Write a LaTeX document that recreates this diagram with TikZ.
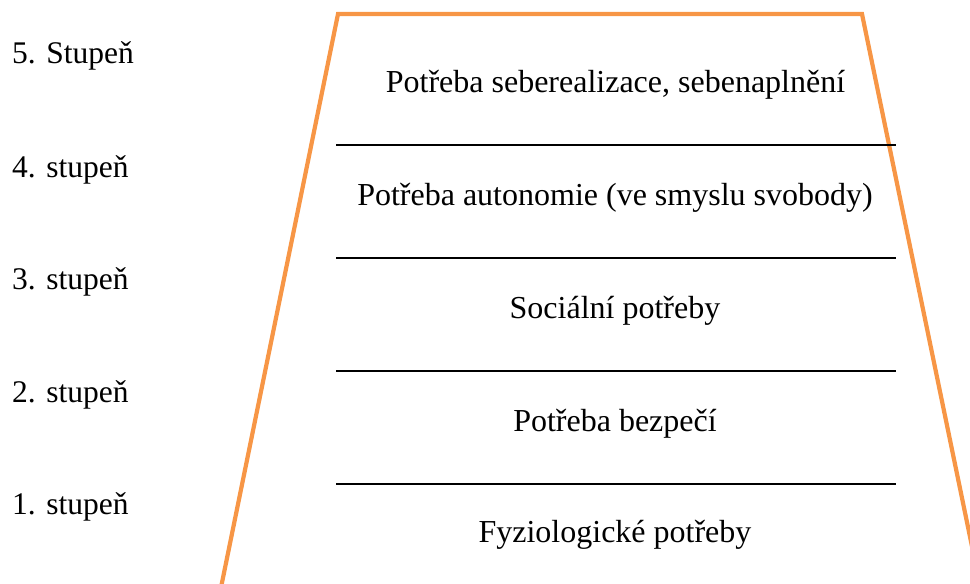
\documentclass[tikz,border=0pt]{standalone}
\usepackage{fontspec}
\setmainfont{Liberation Serif}
\definecolor{pyrorange}{RGB}{247,150,70}
\begin{document}
\begin{tikzpicture}[x=1pt,y=-1pt,
  lvl/.style={anchor=base west,inner sep=0pt,font=\fontsize{31.5}{36}\selectfont},
  need/.style={anchor=base,inner sep=0pt,font=\fontsize{32}{36}\selectfont},
  sep/.style={draw=black,line width=2.2pt},
  pyr/.style={draw=pyrorange,line width=4.2pt,line join=miter}]
\useasboundingbox (0,0) rectangle (970,584);
\clip (0,0) rectangle (970,584);
% trapezoid
\coordinate (bl) at (220.5,590);
\coordinate (tl) at (338,14);
\coordinate (tr) at (862,14);
\coordinate (br) at (981,590);
\draw[pyr] (bl) -- (tl) -- (tr) -- (br);
% separators
\foreach \y [count=\i] in {145,258,371,484}{
  \coordinate (s\i l) at (336,\y);
  \coordinate (s\i r) at (896,\y);
  \draw[sep] (s\i l) -- (s\i r);
}
% left labels
\node[lvl] (l5) at (12,63) {5. Stupeň};
\node[lvl] (l4) at (12,177) {4. stupeň};
\node[lvl] (l3) at (12,289) {3. stupeň};
\node[lvl] (l2) at (12,402) {2. stupeň};
\node[lvl] (l1) at (12,514) {1. stupeň};
% needs
\node[need] (n5) at (615.5,92.5) {Potřeba seberealizace, sebenaplnění};
\node[need] (n4) at (615,205.5) {Potřeba autonomie (ve smyslu svobody)};
\node[need] (n3) at (615,318.5) {Sociální potřeby};
\node[need] (n2) at (615,431.5) {Potřeba bezpečí};
\node[need] (n1) at (615,542.5) {Fyziologické potřeby};
\end{tikzpicture}
\end{document}
